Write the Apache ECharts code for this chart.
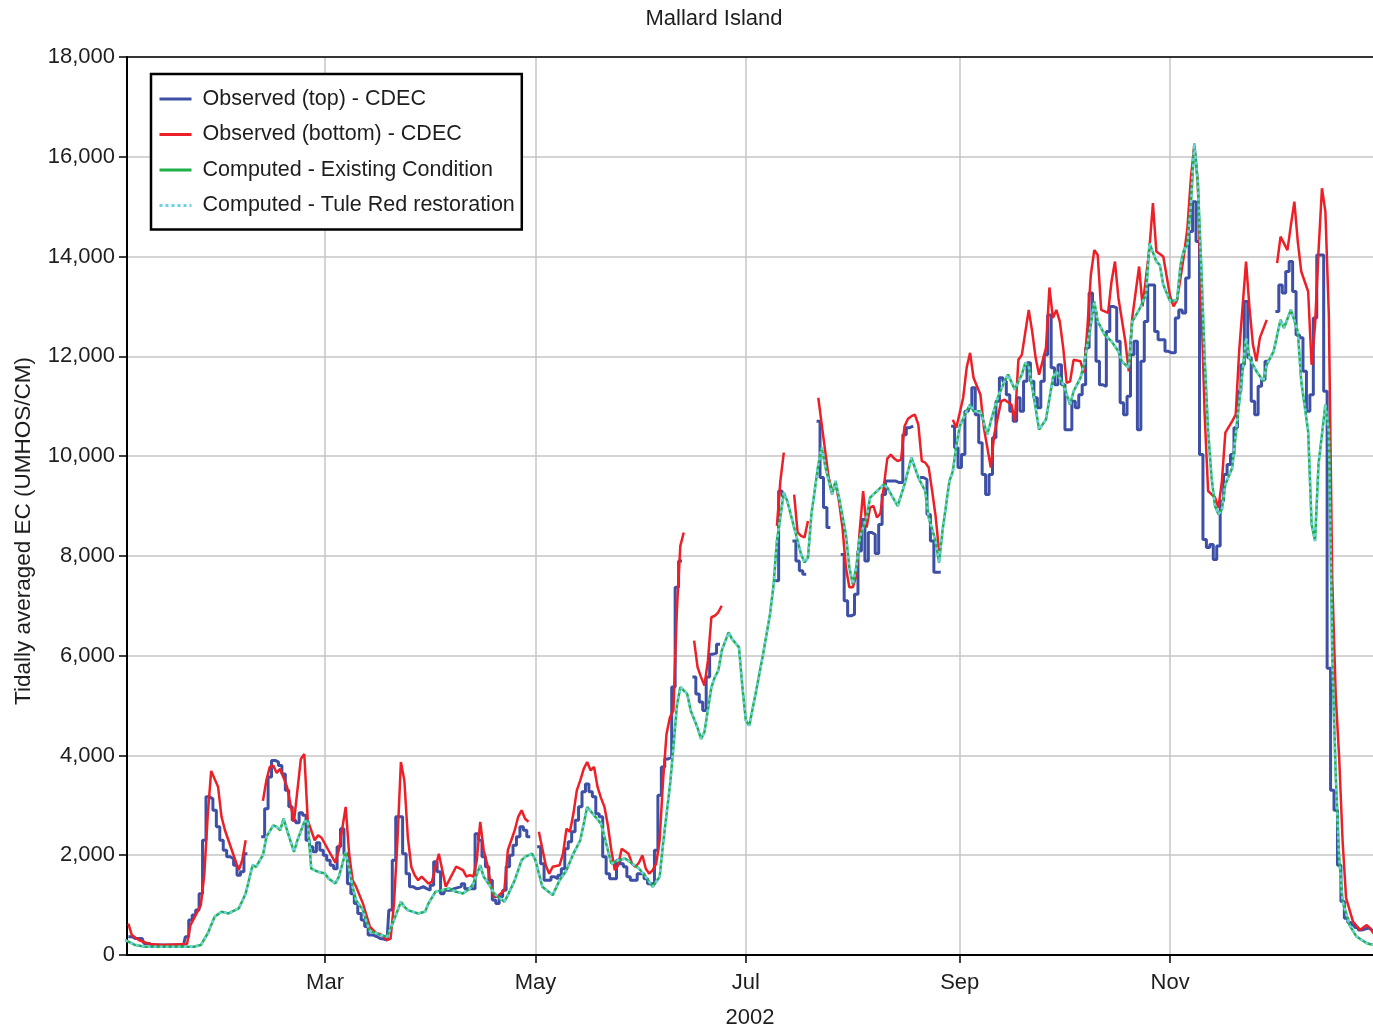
<!DOCTYPE html>
<html>
<head>
<meta charset="utf-8">
<title>Mallard Island</title>
<script src="https://cdn.jsdelivr.net/npm/echarts@6/dist/echarts.min.js"></script>
<style>
  html, body { margin: 0; padding: 0; background: #ffffff; }
  #chart { width: 1373px; height: 1029px; }
</style>
</head>
<body>
<div id="chart"></div>
<script>
// Tidally averaged EC at Mallard Island, water year 2002.
const YEAR = 2002;
const MONTH_NAMES = ['Jan','Feb','Mar','Apr','May','Jun','Jul','Aug','Sep','Oct','Nov','Dec'];
const MONTH_TICKS = ['03-01', '05-01', '07-01', '09-01', '11-01'];
const Y_TICKS = { min: 0, max: 18000, step: 2000 };

// Observed, top sensor (daily values; null pairs bracket each missing stretch)
const observedTop = [
  ['01-03',367],['01-05',333],['01-07',333],['01-08',233],['01-10',200],['01-19',200],['01-20',367],
  ['01-21',700],['01-22',800],['01-23',900],['01-24',1230],['01-25',2300],['01-26',3170],['01-27',3130],
  ['01-28',2900],['01-29',2570],['01-30',2300],['01-31',2100],['02-01',1970],['02-02',1930],['02-03',1800],
  ['02-04',1600],['02-05',1670],['02-06',2030],['02-07',null],['02-10',null],
  ['02-11',2370],['02-12',2930],['02-13',3570],['02-14',3900],['02-15',3870],['02-16',3800],['02-17',3630],
  ['02-18',3300],['02-19',2970],['02-20',2700],['02-21',2650],['02-22',2850],['02-23',2800],['02-24',2300],
  ['02-25',2170],['02-26',2070],['02-27',2250],['02-28',2100],['03-01',2000],['03-02',1900],['03-03',1800],
  ['03-04',1730],['03-05',2170],['03-06',2530],['03-07',2030],['03-08',1430],['03-09',1230],['03-10',1030],
  ['03-11',830],['03-12',700],['03-13',570],['03-14',400],['03-16',370],['03-17',330],['03-18',320],
  ['03-19',300],['03-20',900],['03-21',1900],['03-22',2770],['03-23',2770],['03-24',2030],['03-25',1630],
  ['03-26',1370],['03-27',1330],['03-28',1340],['03-29',1370],['03-30',1330],['03-31',1300],['04-01',1400],
  ['04-02',1870],['04-03',1670],['04-04',1230],['04-05',1300],['04-06',1300],['04-07',1330],['04-08',1350],
  ['04-09',1370],['04-10',1430],['04-11',1330],['04-12',1330],['04-13',1330],['04-14',2430],['04-15',2300],
  ['04-16',1970],['04-17',1770],['04-18',1500],['04-19',1100],['04-20',1030],['04-21',1170],['04-22',1300],
  ['04-23',1770],['04-24',2000],['04-25',2200],['04-26',2370],['04-27',2570],['04-28',2500],['04-29',2370],
  ['04-30',null],['05-01',null],
  ['05-02',2170],['05-03',1830],['05-04',1500],['05-05',1500],['05-06',1570],['05-07',1530],['05-08',1600],
  ['05-09',1730],['05-10',2130],['05-11',2270],['05-12',2470],['05-13',2700],['05-14',2970],['05-15',3270],
  ['05-16',3430],['05-17',3270],['05-18',3170],['05-19',2830],['05-20',2770],['05-21',1970],['05-22',1630],
  ['05-23',1530],['05-24',1530],['05-25',1900],['05-26',1830],['05-27',1770],['05-28',1570],['05-29',1500],
  ['05-30',1500],['05-31',1630],['06-01',1630],['06-02',1530],['06-03',1430],['06-04',1430],['06-05',2100],
  ['06-06',3200],['06-07',3770],['06-08',3930],['06-09',3970],['06-10',5370],['06-11',7370],['06-12',7900],
  ['06-13',null],['06-15',null],
  ['06-16',5570],['06-17',5230],['06-18',5070],['06-19',4900],['06-20',5570],['06-21',6030],['06-22',6050],
  ['06-23',6230],['06-24',null],['07-09',null],
  ['07-10',7500],['07-11',9300],['07-12',9200],['07-13',null],['07-14',null],
  ['07-15',8300],['07-16',7900],['07-17',7700],['07-18',7630],['07-19',null],['07-21',null],
  ['07-22',10700],['07-23',9570],['07-24',8970],['07-25',8570],['07-26',null],['07-28',null],
  ['07-29',8030],['07-30',7100],['07-31',6800],['08-01',6830],['08-02',7230],['08-03',8100],['08-04',8730],
  ['08-05',7900],['08-06',8470],['08-07',8430],['08-08',8050],['08-09',8630],['08-10',9230],['08-11',9500],
  ['08-12',9500],['08-13',9500],['08-14',9470],['08-15',9470],['08-16',10430],['08-17',10570],['08-18',10600],
  ['08-19',null],['08-20',null],
  ['08-21',9570],['08-22',9530],['08-23',8830],['08-24',8300],['08-25',7670],['08-26',7670],
  ['08-27',null],['08-29',null],
  ['08-30',10600],['08-31',10170],['09-01',9770],['09-02',10030],['09-03',10900],['09-04',10970],['09-05',11370],
  ['09-06',10830],['09-07',10270],['09-08',9630],['09-09',9230],['09-10',9630],['09-11',10370],['09-12',11100],
  ['09-13',11570],['09-14',11500],['09-15',11230],['09-16',10900],['09-17',10700],['09-18',11170],['09-19',10900],
  ['09-20',11500],['09-21',11870],['09-22',11500],['09-23',11170],['09-24',10970],['09-25',11500],['09-26',12030],
  ['09-27',12830],['09-28',11770],['09-29',11430],['09-30',11830],['10-01',11430],['10-02',10530],['10-03',10530],
  ['10-04',11100],['10-05',10970],['10-06',11230],['10-07',11430],['10-08',12170],['10-09',13270],['10-10',12900],
  ['10-11',11900],['10-12',11430],['10-13',11400],['10-14',12500],['10-15',13000],['10-16',12970],['10-17',12300],
  ['10-18',11070],['10-19',10830],['10-20',11200],['10-21',12030],['10-22',12300],['10-23',10530],['10-24',11900],
  ['10-25',12700],['10-26',13430],['10-27',13430],['10-28',12500],['10-29',12330],['10-30',12330],['10-31',12100],
  ['11-01',12070],['11-02',12070],['11-03',12770],['11-04',12930],['11-05',12870],['11-06',13570],['11-07',14500],
  ['11-08',15100],['11-09',14300],['11-10',10030],['11-11',8330],['11-12',8170],['11-13',8230],['11-14',7930],
  ['11-15',8200],['11-16',9100],['11-17',9630],['11-18',9830],['11-19',10030],['11-20',10570],['11-21',11300],
  ['11-22',11830],['11-23',13100],['11-24',11970],['11-25',11100],['11-26',10830],['11-27',11400],['11-28',11530],
  ['11-29',11900],['11-30',null],['12-01',null],
  ['12-02',12900],['12-03',13430],['12-04',13270],['12-05',13700],['12-06',13900],['12-07',13300],['12-08',12430],
  ['12-09',12370],['12-10',11700],['12-11',10900],['12-12',11230],['12-13',12770],['12-14',14030],['12-15',14030],
  ['12-16',11300],['12-17',5750],['12-18',3300],['12-19',2900],['12-20',1800],['12-21',1070],['12-22',735],
  ['12-23',650],['12-24',600],['12-25',550],['12-26',500],['12-27',520],['12-28',540],['12-29',500],['12-30',480]
];

// Observed, bottom sensor
const observedBottom = [
  ['01-03',630],['01-04',400],['01-06',300],['01-09',220],['01-13',200],['01-20',220],['01-21',600],
  ['01-24',1000],['01-25',1600],['01-26',2800],['01-27',3690],['01-29',3370],['01-30',2770],['01-31',2500],
  ['02-01',2300],['02-02',2100],['02-04',1700],['02-05',1900],['02-06',2300],['02-07',null],
  ['02-11',3090],['02-12',3500],['02-13',3770],['02-14',3800],['02-15',3650],['02-16',3730],['02-18',3370],
  ['02-20',2670],['02-22',3930],['02-23',4030],['02-24',2700],['02-26',2300],['02-27',2400],['02-28',2350],
  ['03-02',2100],['03-04',1850],['03-05',2100],['03-07',2970],['03-08',2030],['03-09',1500],['03-10',1370],
  ['03-11',1200],['03-12',1030],['03-13',800],['03-14',570],['03-16',430],['03-17',420],['03-19',300],
  ['03-20',330],['03-21',1030],['03-22',2300],['03-23',3870],['03-24',3500],['03-25',2370],['03-26',1770],
  ['03-27',1600],['03-28',1500],['03-29',1570],['03-31',1430],['04-01',1470],['04-03',2030],['04-04',1700],
  ['04-05',1370],['04-06',1500],['04-08',1770],['04-10',1700],['04-11',1570],['04-12',1600],['04-13',1570],
  ['04-14',1900],['04-15',2670],['04-16',2100],['04-17',1830],['04-18',1430],['04-19',1170],['04-20',1170],
  ['04-22',1300],['04-23',2100],['04-24',2300],['04-25',2500],['04-26',2770],['04-27',2900],['04-28',2730],
  ['04-29',2670],['04-30',null],
  ['05-02',2470],['05-03',2130],['05-04',1800],['05-05',1630],['05-06',1770],['05-08',1800],['05-09',2030],
  ['05-10',2530],['05-11',2470],['05-12',2830],['05-13',3300],['05-14',3500],['05-15',3730],['05-16',3870],
  ['05-17',3700],['05-18',3770],['05-19',3370],['05-20',3150],['05-21',2970],['05-22',2600],['05-23',2100],
  ['05-24',1700],['05-25',1800],['05-26',2130],['05-28',2030],['05-29',1830],['05-30',1770],['05-31',1850],
  ['06-01',2000],['06-02',1730],['06-03',1630],['06-04',1700],['06-05',1830],['06-06',2300],['06-07',3500],
  ['06-08',4430],['06-09',4770],['06-10',4900],['06-11',6900],['06-12',8200],['06-13',8470],['06-14',null],
  ['06-16',6300],['06-17',5770],['06-18',5570],['06-19',5400],['06-20',5900],['06-21',6770],['06-22',6800],
  ['06-23',6870],['06-24',7000],['06-25',null],
  ['07-10',8600],['07-11',9500],['07-12',10070],['07-13',null],
  ['07-15',9230],['07-16',8470],['07-17',8400],['07-18',8370],['07-19',8700],['07-20',null],
  ['07-22',11170],['07-23',10630],['07-24',10100],['07-25',9570],['07-26',9300],['07-27',9450],['07-28',9100],
  ['07-29',8570],['07-30',7770],['07-31',7370],['08-01',7370],['08-02',7600],['08-03',8500],['08-04',9300],
  ['08-05',8570],['08-06',8970],['08-07',9000],['08-08',8770],['08-09',8850],['08-10',9400],['08-11',9950],
  ['08-12',10030],['08-13',9950],['08-14',9900],['08-15',9930],['08-16',10600],['08-17',10750],['08-18',10800],
  ['08-19',10830],['08-20',10630],['08-21',9900],['08-22',9870],['08-23',9770],['08-24',9300],['08-25',8800],
  ['08-26',8100],['08-27',null],
  ['08-30',10730],['08-31',10570],['09-02',11170],['09-03',11770],['09-04',12070],['09-05',11570],['09-07',11230],
  ['09-08',10570],['09-10',9770],['09-11',10430],['09-13',11100],['09-14',11130],['09-16',11030],['09-17',10700],
  ['09-18',11930],['09-19',12030],['09-21',12930],['09-22',12500],['09-23',11970],['09-24',11630],['09-26',12170],
  ['09-27',13380],['09-28',12770],['09-29',12930],['09-30',12700],['10-01',12170],['10-02',11470],['10-03',11500],
  ['10-04',11930],['10-06',11900],['10-07',11670],['10-08',12570],['10-09',13630],['10-10',14130],['10-11',14030],
  ['10-12',12930],['10-13',12900],['10-14',12870],['10-15',13500],['10-16',13900],['10-17',13170],['10-19',12300],
  ['10-20',11700],['10-21',12770],['10-23',13800],['10-24',13000],['10-26',14170],['10-27',15070],['10-28',14100],
  ['10-30',14000],['11-01',13200],['11-02',13000],['11-03',13130],['11-04',13570],['11-05',14030],['11-06',14570],
  ['11-07',15570],['11-08',16230],['11-09',15500],['11-10',13170],['11-11',10830],['11-12',9300],['11-14',9170],
  ['11-15',8970],['11-16',9500],['11-17',10470],['11-19',10700],['11-20',10830],['11-21',12100],['11-23',13900],
  ['11-24',12970],['11-25',12230],['11-26',11900],['11-27',12370],['11-29',12730],['11-30',null],
  ['12-02',13870],['12-03',14400],['12-05',14130],['12-06',14630],['12-07',15100],['12-08',14300],['12-09',13700],
  ['12-11',13300],['12-12',11830],['12-13',12630],['12-14',14100],['12-15',15370],['12-16',14900],['12-17',12830],
  ['12-18',7500],['12-19',5200],['12-20',3950],['12-21',2270],['12-22',1140],['12-24',670],['12-26',500],
  ['12-28',600],['12-29',535],['12-30',430]
];

// Model output dates shared by both computed scenarios
const computedDates = [
  '01-02','01-03','01-05','01-08','01-22','01-24','01-26','01-28','01-30','01-31','02-01','02-03','02-04',
  '02-06','02-08','02-09','02-11','02-12','02-14','02-15','02-16','02-17','02-18','02-20','02-21','02-23',
  '02-24','02-25','02-27','03-01','03-02','03-04','03-05','03-07','03-09','03-10','03-12','03-13','03-14',
  '03-16','03-17','03-19','03-21','03-23','03-24','03-25','03-28','03-30','03-31','04-02','04-04','04-06',
  '04-08','04-10','04-12','04-13','04-15','04-16','04-18','04-19','04-22','04-23','04-25','04-27','04-28',
  '04-30','05-01','05-03','05-06','05-08','05-10','05-12','05-14','05-16','05-18','05-20','05-23','05-25',
  '05-27','05-29','05-31','06-02','06-04','06-06','06-07','06-09','06-10','06-11','06-12','06-14','06-15',
  '06-17','06-18','06-19','06-21','06-22','06-23','06-24','06-26','06-27','06-29','06-30','07-01','07-02',
  '07-04','07-06','07-08','07-09','07-10','07-12','07-13','07-15','07-17','07-18','07-19','07-20','07-22',
  '07-23','07-24','07-26','07-27','07-28','07-30','07-31','08-01','08-02','08-03','08-05','08-06','08-08',
  '08-10','08-11','08-14','08-16','08-18','08-20','08-22','08-23','08-25','08-26','08-27','08-29','08-30',
  '08-31','09-01','09-03','09-04','09-05','09-07','09-09','09-10','09-12','09-14','09-15','09-17','09-18',
  '09-19','09-20','09-21','09-23','09-24','09-26','09-28','09-29','10-01','10-03','10-04','10-06','10-07',
  '10-09','10-10','10-11','10-13','10-15','10-17','10-18','10-20','10-21','10-23','10-25','10-26','10-28',
  '10-29','10-30','11-01','11-03','11-04','11-05','11-06','11-07','11-08','11-09','11-10','11-11','11-12',
  '11-13','11-14','11-15','11-16','11-17','11-19','11-20','11-22','11-23','11-24','11-26','11-28','11-29',
  '12-01','12-03','12-04','12-06','12-08','12-09','12-11','12-12','12-13','12-14','12-16','12-17','12-18',
  '12-19','12-20','12-21','12-23','12-25','12-28','12-30'
];

// Computed - existing condition
const existingCondition = [
  300,267,200,167,167,200,433,767,867,850,833,900,933,
  1233,1800,1767,2000,2367,2600,2567,2500,2733,2500,2067,2300,2667,
  2700,1733,1667,1633,1533,1433,1567,2067,1367,1100,900,667,480,
  433,400,367,700,1067,967,900,833,867,1033,1267,1300,1333,
  1267,1233,1333,1433,1800,1567,1367,1233,1067,1200,1500,1900,1967,
  2033,1900,1367,1200,1500,1700,2033,2300,2967,2800,2633,1833,1900,
  1933,1833,1733,1567,1367,1567,2233,3400,4167,5000,5367,5233,4900,
  4550,4333,4467,5367,5567,5700,6100,6467,6333,6167,5367,4700,4600,
  5300,6033,6833,7400,8300,9267,9100,8567,8033,7867,7967,8833,9833,
  10167,9800,9233,9500,9167,8433,7767,7433,7767,8367,8767,9167,9300,
  9433,9367,9000,9433,9967,9567,9300,8767,8300,7867,8500,9500,9700,
  10200,10600,10900,11033,10900,10900,10433,10700,11167,11500,11633,11333,11500,
  11633,11867,11800,10967,10533,10733,11567,11700,11433,11033,11300,11567,11833,
  12633,13100,12700,12433,12300,12100,11900,11767,12700,12933,13233,14267,13900,
  13833,13433,13100,13133,13833,14133,14233,15033,16267,15500,13833,11967,10500,
  9567,9000,8833,8933,9433,9767,10433,11700,12367,11967,11700,11500,11833,
  12100,12733,12567,12933,12500,11500,10500,8633,8300,9833,11033,10500,5950,
  3600,1940,1070,600,370,234,200
];

// Computed - Tule Red restoration
const tuleRedRestoration = [
  300,267,200,167,167,200,433,767,867,850,833,900,933,
  1233,1800,1767,2000,2367,2600,2567,2500,2733,2500,2067,2300,2667,
  2700,1733,1667,1633,1533,1433,1567,2067,1367,1100,900,667,480,
  433,400,367,700,1067,967,900,833,867,1033,1267,1300,1333,
  1267,1233,1333,1433,1800,1567,1367,1233,1067,1200,1500,1900,1967,
  2033,1900,1367,1200,1500,1700,2033,2300,2967,2800,2633,1833,1900,
  1933,1833,1733,1567,1367,1567,2233,3400,4167,5000,5367,5233,4900,
  4550,4333,4467,5367,5567,5700,6100,6467,6333,6167,5367,4700,4600,
  5300,6033,6833,7400,8300,9267,9100,8567,8033,7867,7967,8833,9833,
  10167,9800,9233,9500,9167,8433,7767,7433,7767,8367,8767,9167,9300,
  9433,9367,9000,9433,9967,9567,9300,8767,8300,7867,8500,9500,9700,
  10200,10600,10900,11033,10900,10900,10433,10700,11167,11500,11633,11333,11500,
  11633,11867,11800,10967,10533,10733,11567,11700,11433,11033,11300,11567,11833,
  12633,13100,12700,12433,12300,12100,11900,11767,12700,12933,13233,14267,13900,
  13833,13433,13100,13133,13833,14133,14233,15033,16267,15500,13833,11967,10500,
  9567,9000,8833,8933,9433,9767,10433,11700,12367,11967,11700,11500,11833,
  12100,12733,12567,12933,12500,11500,10500,8633,8300,9833,11033,10500,5950,
  3600,1940,1070,600,370,234,200
];

const FONT = '"Liberation Sans", Arial, Helvetica, sans-serif';
const TEXT_COLOR = '#1e1e1e';

function toTime(md) {
  const [m, d] = md.split('-').map(Number);
  return new Date(YEAR, m - 1, d).getTime();
}
const pairs = rows => rows.map(([md, v]) => [toTime(md), v]);
const zipDates = (dates, values) => dates.map((md, i) => [toTime(md), values[i]]);

const tickTimes = MONTH_TICKS.map(toTime);

const chart = echarts.init(document.getElementById('chart'), null, { renderer: 'canvas' });

chart.setOption({
  animation: false,
  backgroundColor: '#ffffff',
  textStyle: { fontFamily: FONT },
  grid: { left: 127, right: 0, top: 57, bottom: 74, containLabel: false, outerBoundsMode: 'none' },
  graphic: [
    {
      type: 'text', x: 714, y: 19, silent: true,
      style: {
        text: 'Mallard Island', font: '22px ' + FONT, fill: TEXT_COLOR,
        textAlign: 'center', textVerticalAlign: 'middle', align: 'center', verticalAlign: 'middle'
      }
    },
    {
      type: 'text', x: 24, y: 531, rotation: Math.PI / 2, silent: true,
      style: {
        text: 'Tidally averaged EC (UMHOS/CM)', font: '22.5px ' + FONT, fill: TEXT_COLOR,
        textAlign: 'center', textVerticalAlign: 'middle', align: 'center', verticalAlign: 'middle'
      }
    }
  ],
  legend: {
    orient: 'vertical',
    left: 151, top: 74,
    padding: [14, 7, 13, 7],
    itemGap: 13.5,
    itemWidth: 32, itemHeight: 14,
    backgroundColor: '#ffffff',
    borderColor: '#000000', borderWidth: 2.5,
    selectedMode: false,
    itemStyle: { opacity: 0 },
    lineStyle: { width: 3 },
    textStyle: { fontSize: 21.5, color: TEXT_COLOR, fontFamily: FONT, padding: [0, 0, 0, 6] },
    data: [
      'Observed (top) - CDEC',
      'Observed (bottom) - CDEC',
      'Computed - Existing Condition',
      'Computed - Tule Red restoration'
    ]
  },
  xAxis: [
    {
      // timestamps on a linear axis so the month ticks can be placed exactly
      type: 'value',
      min: new Date(YEAR, 0, 2, 14, 24).getTime(),
      max: new Date(YEAR, 11, 29, 19, 12).getTime(),
      name: String(YEAR),
      nameLocation: 'middle',
      nameGap: 52,
      nameTextStyle: { fontSize: 22, color: TEXT_COLOR, fontFamily: FONT },
      axisLine: { show: true, onZero: false, lineStyle: { color: '#000000', width: 2 } },
      axisTick: { show: true, length: 8, customValues: tickTimes, lineStyle: { color: '#000000', width: 1.5 } },
      axisLabel: {
        customValues: tickTimes,
        formatter: v => MONTH_NAMES[new Date(v).getMonth()],
        fontSize: 22, color: TEXT_COLOR, fontFamily: FONT, margin: 17
      },
      splitLine: { show: true, lineStyle: { color: '#c6c6c6', width: 1.5 } }
    },
    {
      type: 'value', position: 'top', min: 0, max: 1,
      axisLine: { show: true, onZero: false, lineStyle: { color: '#000000', width: 1.5 } },
      axisTick: { show: false }, axisLabel: { show: false }, splitLine: { show: false }
    }
  ],
  yAxis: {
    type: 'value',
    min: Y_TICKS.min, max: Y_TICKS.max, interval: Y_TICKS.step,
    axisLine: { show: true, onZero: false, lineStyle: { color: '#000000', width: 2 } },
    axisTick: { show: true, length: 8, lineStyle: { color: '#000000', width: 1.5 } },
    axisLabel: {
      formatter: v => v.toLocaleString('en-US'),
      fontSize: 22, color: TEXT_COLOR, fontFamily: FONT, margin: 12
    },
    splitLine: { show: true, lineStyle: { color: '#c6c6c6', width: 1.5 } }
  },
  series: [
    {
      name: 'Observed (top) - CDEC', type: 'line', step: 'middle', symbol: 'none',
      data: pairs(observedTop),
      itemStyle: { color: '#3e50a6' },
      lineStyle: { color: '#3e50a6', width: 3 }
    },
    {
      name: 'Observed (bottom) - CDEC', type: 'line', symbol: 'none',
      data: pairs(observedBottom),
      itemStyle: { color: '#ee1f26' },
      lineStyle: { color: '#ee1f26', width: 2.5 }
    },
    {
      name: 'Computed - Existing Condition', type: 'line', symbol: 'none',
      data: zipDates(computedDates, existingCondition),
      itemStyle: { color: '#1eb04a' },
      lineStyle: { color: '#1eb04a', width: 2.5 }
    },
    {
      name: 'Computed - Tule Red restoration', type: 'line', symbol: 'none',
      data: zipDates(computedDates, tuleRedRestoration),
      itemStyle: { color: '#6fcfe3' },
      lineStyle: { color: '#6fcfe3', width: 2.5, type: [3, 3] }
    }
  ]
});
</script>
</body>
</html>
